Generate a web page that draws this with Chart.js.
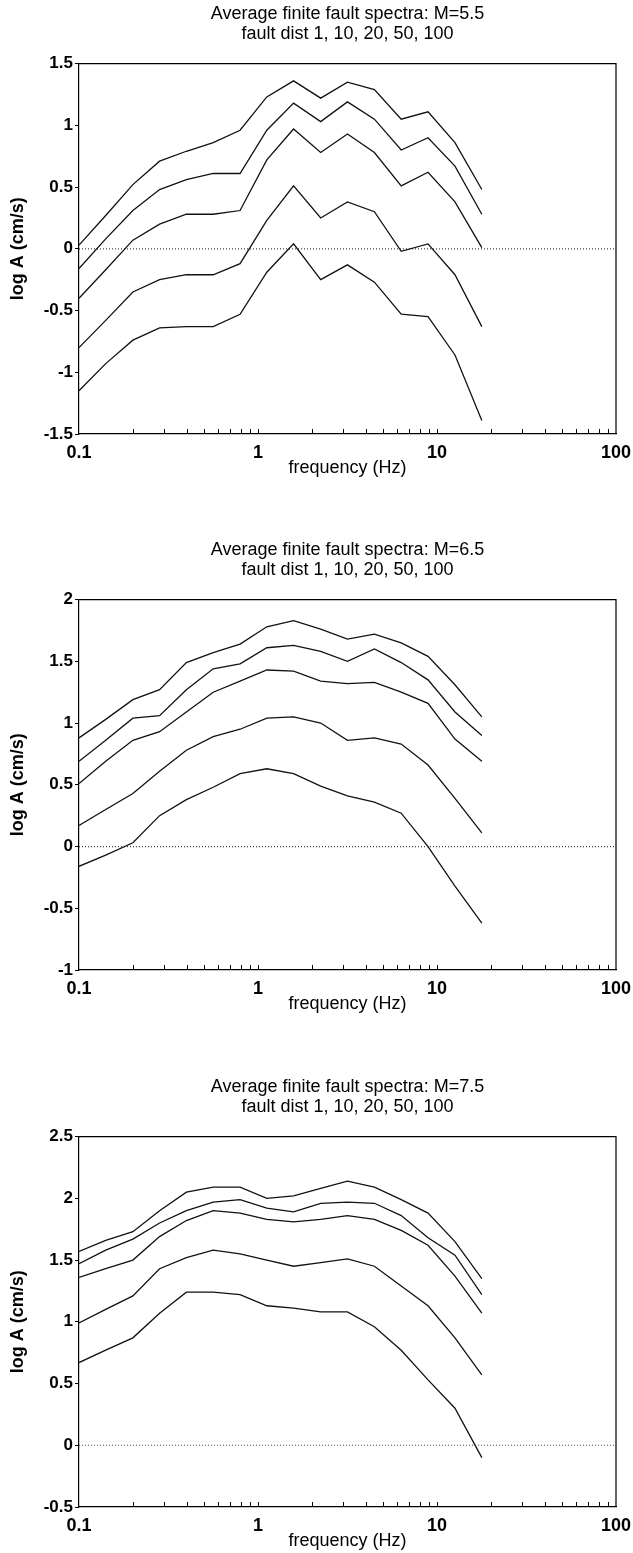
<!DOCTYPE html>
<html>
<head>
<meta charset="utf-8">
<title>Average finite fault spectra</title>
<script src="https://cdn.jsdelivr.net/npm/chart.js@4.4.1/dist/chart.umd.min.js"></script>
<style>
  html, body { margin: 0; padding: 0; background: #fff; overflow: hidden; }
  .panel { position: absolute; left: 0; width: 633px; height: 480px; }
</style>
</head>
<body>
<div class="panel" style="top:0px"><canvas id="chartM55"></canvas></div>
<div class="panel" style="top:536px"><canvas id="chartM65"></canvas></div>
<div class="panel" style="top:1073px"><canvas id="chartM75"></canvas></div>
<script>
// frequency samples (Hz), shared by every curve
const freqHz = [0.1, 0.141, 0.2, 0.282, 0.398, 0.562, 0.794, 1.12, 1.58, 2.24, 3.16, 4.47, 6.31, 8.91, 12.6, 17.8];

// x axis: labelled decades and minor tick positions
const xTickLabels = [0.1, 1, 10, 100];
const xMinorTicks = [0.2, 0.3, 0.4, 0.5, 0.6, 0.7, 0.8, 0.9, 2, 3, 4, 5, 6, 7, 8, 9, 20, 30, 40, 50, 60, 70, 80, 90];

// M=5.5, fault distance 1, 10, 20, 50, 100 km (top to bottom)
const m55Dist1 = [0.03, 0.27, 0.52, 0.71, 0.79, 0.86, 0.96, 1.23, 1.36, 1.22, 1.35, 1.29, 1.05, 1.11, 0.86, 0.48];
const m55Dist10 = [-0.16, 0.08, 0.31, 0.48, 0.56, 0.61, 0.61, 0.96, 1.18, 1.03, 1.19, 1.05, 0.80, 0.90, 0.67, 0.28];
const m55Dist20 = [-0.40, -0.17, 0.07, 0.20, 0.28, 0.28, 0.31, 0.72, 0.97, 0.78, 0.93, 0.78, 0.51, 0.62, 0.38, 0.01];
const m55Dist50 = [-0.80, -0.58, -0.35, -0.25, -0.21, -0.21, -0.12, 0.23, 0.51, 0.25, 0.38, 0.30, -0.02, 0.04, -0.21, -0.63];
const m55Dist100 = [-1.15, -0.93, -0.74, -0.64, -0.63, -0.63, -0.53, -0.19, 0.04, -0.25, -0.13, -0.27, -0.53, -0.55, -0.86, -1.39];
const m55YRange = [-1.5, 1.5];

// M=6.5
const m65Dist1 = [0.88, 1.03, 1.19, 1.27, 1.49, 1.57, 1.64, 1.78, 1.83, 1.76, 1.68, 1.72, 1.65, 1.54, 1.31, 1.05];
const m65Dist10 = [0.69, 0.86, 1.04, 1.06, 1.27, 1.44, 1.48, 1.61, 1.63, 1.58, 1.50, 1.60, 1.49, 1.35, 1.09, 0.90];
const m65Dist20 = [0.51, 0.69, 0.86, 0.93, 1.09, 1.25, 1.34, 1.43, 1.42, 1.34, 1.32, 1.33, 1.25, 1.16, 0.87, 0.69];
const m65Dist50 = [0.17, 0.30, 0.43, 0.61, 0.78, 0.89, 0.95, 1.04, 1.05, 1.00, 0.86, 0.88, 0.83, 0.66, 0.39, 0.11];
const m65Dist100 = [-0.16, -0.07, 0.03, 0.25, 0.38, 0.48, 0.59, 0.63, 0.59, 0.49, 0.41, 0.36, 0.27, 0.00, -0.32, -0.62];
const m65YRange = [-1, 2];

// M=7.5
const m75Dist1 = [1.57, 1.66, 1.73, 1.90, 2.05, 2.09, 2.09, 2.00, 2.02, 2.08, 2.14, 2.09, 1.99, 1.88, 1.65, 1.35];
const m75Dist10 = [1.47, 1.58, 1.67, 1.80, 1.90, 1.97, 1.99, 1.92, 1.89, 1.96, 1.97, 1.96, 1.86, 1.68, 1.54, 1.22];
const m75Dist20 = [1.36, 1.43, 1.50, 1.69, 1.82, 1.90, 1.88, 1.83, 1.81, 1.83, 1.86, 1.83, 1.74, 1.62, 1.37, 1.07];
const m75Dist50 = [0.99, 1.10, 1.21, 1.43, 1.52, 1.58, 1.55, 1.50, 1.45, 1.48, 1.51, 1.45, 1.29, 1.13, 0.87, 0.57];
const m75Dist100 = [0.67, 0.77, 0.87, 1.07, 1.24, 1.24, 1.22, 1.13, 1.11, 1.08, 1.08, 0.96, 0.77, 0.53, 0.30, -0.10];
const m75YRange = [-0.5, 2.5];

const subtitle = 'fault dist 1, 10, 20, 50, 100';

Chart.defaults.font.family = '"Liberation Sans", Arial, Helvetica, sans-serif';
Chart.defaults.color = '#000';

/**
 * Draws the frame's top/right edges and the inward ticks on the x axis
 */
const frameAndTicks = {
  id: 'frameAndTicks',
  afterDraw(chart) {
    const { ctx, chartArea: a } = chart;
    const xs = chart.scales.x;
    ctx.save();
    ctx.strokeStyle = '#000';
    ctx.lineWidth = 1.2;
    ctx.beginPath();
    ctx.moveTo(a.left, a.top);
    ctx.lineTo(a.right, a.top);
    ctx.lineTo(a.right, a.bottom);
    ctx.stroke();

    ctx.lineWidth = 1;
    ctx.beginPath();
    xMinorTicks.concat([1, 10]).forEach(v => {
      const px = Math.round(xs.getPixelForValue(v)) + 0.5;
      ctx.moveTo(px, a.bottom);
      ctx.lineTo(px, a.bottom - 5);
    });
    ctx.stroke();
    ctx.restore();
  }
};

/**
 * Builds one spectra panel
 * @param {string} canvasId - The ID of the canvas element
 * @param {string} magnitude - Magnitude label for the title
 * @param {Array} curves - Array of y arrays, one per fault distance
 * @param {Array} yRange - [min, max] of the y axis
 */
function createSpectraChart(canvasId, magnitude, curves, yRange) {
  const ctx = document.getElementById(canvasId);
  if (!ctx) {
    console.error(`Canvas element with ID '${canvasId}' not found.`);
    return null;
  }

  const datasets = curves.map(values => ({
    data: freqHz.map((f, i) => ({ x: f, y: values[i] })),
    borderColor: '#111',
    borderWidth: 1.3,
    pointRadius: 0,
    tension: 0,
    fill: false,
  }));

  // dotted zero reference line
  datasets.push({
    data: [{ x: xTickLabels[0], y: 0 }, { x: xTickLabels[xTickLabels.length - 1], y: 0 }],
    borderColor: '#444',
    borderWidth: 1.2,
    borderDash: [1, 2],
    pointRadius: 0,
    fill: false,
  });

  return new Chart(ctx, {
    type: 'line',
    data: { datasets: datasets },
    plugins: [frameAndTicks],
    options: {
      responsive: true,
      maintainAspectRatio: false,
      animation: false,
      events: [],
      layout: { padding: { top: 4, left: 0, right: 17, bottom: 0 } },
      plugins: {
        legend: { display: false },
        tooltip: { enabled: false },
        title: {
          display: true,
          fullSize: false,
          text: ['Average finite fault spectra: M=' + magnitude, subtitle],
          color: '#000',
          font: { size: 18, weight: 'normal', lineHeight: 1.1 },
          padding: { top: 0, bottom: 20 },
        },
      },
      scales: {
        x: {
          type: 'logarithmic',
          min: xTickLabels[0],
          max: xTickLabels[xTickLabels.length - 1],
          afterBuildTicks: scale => {
            scale.ticks = xTickLabels.map(v => ({ value: v }));
          },
          afterFit: scale => { scale.height = 46; },
          ticks: {
            autoSkip: false,
            maxRotation: 0,
            padding: 0,
            font: { size: 18, weight: 'bold' },
            callback: value => String(value),
          },
          grid: { display: false },
          border: { display: true, color: '#000', width: 1.2 },
          title: {
            display: true,
            text: 'frequency (Hz)',
            font: { size: 18, weight: 'normal' },
            padding: { top: 0, bottom: 1 },
          },
        },
        y: {
          min: yRange[0],
          max: yRange[1],
          afterFit: scale => { scale.width = 79; },
          ticks: {
            stepSize: 0.5,
            padding: 2,
            font: { size: 17, weight: 'bold' },
            callback: value => String(value),
          },
          grid: {
            display: true,
            drawOnChartArea: false,
            drawTicks: true,
            tickLength: 4,
            color: '#000',
          },
          border: { display: true, color: '#000', width: 1.2 },
          title: {
            display: true,
            text: 'log A (cm/s)',
            font: { size: 18, weight: 'bold' },
            padding: { top: 7, bottom: 0 },
          },
        },
      },
    },
  });
}

createSpectraChart('chartM55', '5.5', [m55Dist1, m55Dist10, m55Dist20, m55Dist50, m55Dist100], m55YRange);
createSpectraChart('chartM65', '6.5', [m65Dist1, m65Dist10, m65Dist20, m65Dist50, m65Dist100], m65YRange);
createSpectraChart('chartM75', '7.5', [m75Dist1, m75Dist10, m75Dist20, m75Dist50, m75Dist100], m75YRange);
</script>
</body>
</html>
